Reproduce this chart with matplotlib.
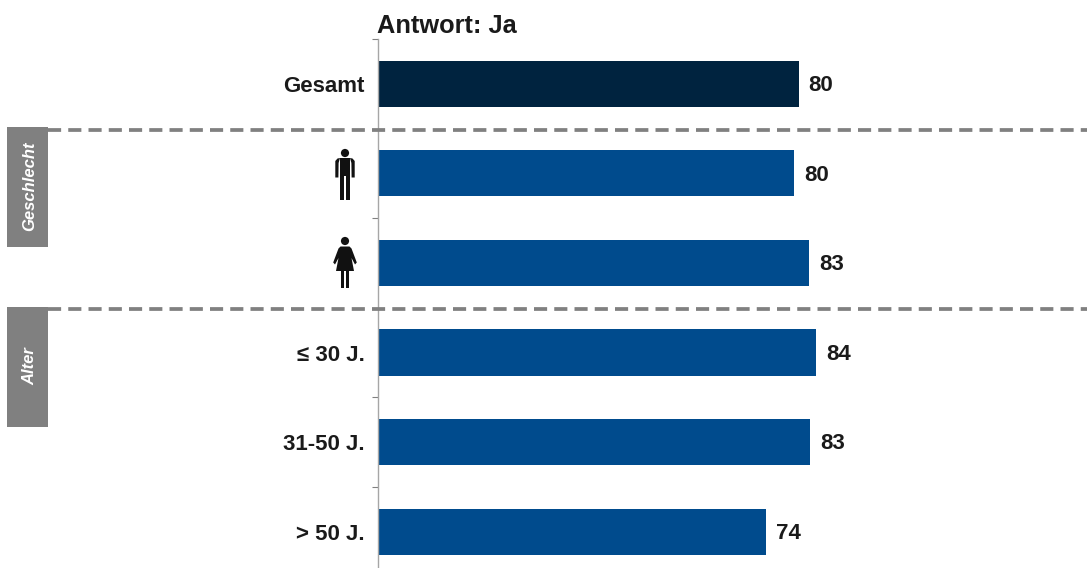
import numpy as np
import matplotlib
matplotlib.use("Agg")
import matplotlib.pyplot as plt
from matplotlib.patches import Circle, Polygon, Rectangle

plt.rcParams['font.family'] = ['Liberation Sans', 'DejaVu Sans']

# bar lengths as drawn, the printed labels are rounded differently in the source
categories = ["Gesamt", "", "", "≤ 30 J.", "31-50 J.", "> 50 J."]
values = [80.9, 80.0, 82.9, 84.2, 83.1, 74.6]
value_labels = ["80", "80", "83", "84", "83", "74"]
bar_colors = ["#00233f", "#004b8d", "#004b8d", "#004b8d", "#004b8d", "#004b8d"]
groups = ["Geschlecht", "Alter"]

GRAY = "#808080"
W, H = 1092, 568


def draw_man(ax, cx):
    ax.add_patch(Circle((cx, 153), 4.1, color="#111111", lw=0))
    torso = [(cx - 5.2, 158), (cx + 5.2, 158), (cx + 5.2, 199.5), (cx + 0.6, 199.5), (cx + 0.6, 176),
             (cx - 0.6, 176), (cx - 0.6, 199.5), (cx - 5.2, 199.5)]
    ax.add_patch(Polygon(torso, closed=True, color="#111111", lw=0))
    for side in (-1, 1):
        arm = [(cx + side * 5, 158), (cx + side * 7.5, 158.5), (cx + side * 9.7, 161),
               (cx + side * 9.7, 177.5), (cx + side * 6.6, 177.5), (cx + side * 6.4, 163)]
        ax.add_patch(Polygon(arm, closed=True, color="#111111", lw=0))


def draw_woman(ax, cx):
    ax.add_patch(Circle((cx, 241), 4.1, color="#111111", lw=0))
    dress = [(cx - 4.5, 246.5), (cx + 4.5, 246.5), (cx + 6.5, 248.5), (cx + 11.8, 262.5), (cx + 10, 264.5),
             (cx + 6.5, 258), (cx + 9, 271), (cx - 9, 271), (cx - 6.5, 258), (cx - 10, 264.5),
             (cx - 11.8, 262.5), (cx - 6.5, 248.5)]
    ax.add_patch(Polygon(dress, closed=True, color="#111111", lw=0))
    ax.add_patch(Rectangle((cx - 4.2, 271), 3.6, 16.5, color="#111111", lw=0))
    ax.add_patch(Rectangle((cx + 0.6, 271), 3.6, 16.5, color="#111111", lw=0))


def main():
    fig = plt.figure(figsize=(W / 100, H / 100), dpi=100, facecolor="white")

    # axes runs from the top of the value axis to the bottom edge of the image
    ax = fig.add_axes([378 / W, 0, (W - 378) / W, (H - 39) / H])
    y = np.arange(len(values))
    ax.barh(y, values, height=0.515, color=bar_colors)
    ax.set_xlim(0, (W - 378) / 5.2)
    ax.set_ylim(5.405, -0.5)

    for yi, v, lab in zip(y, values, value_labels):
        ax.annotate(lab, (v, yi), xytext=(7.2, -1.2), textcoords="offset points", va="center",
                    ha="left", fontsize=16, fontweight="bold", color="#1a1a1a")

    for s in ["top", "right", "bottom"]:
        ax.spines[s].set_visible(False)
    ax.spines["left"].set_color("#a6a6a6")
    ax.spines["left"].set_linewidth(1.0)
    ax.set_xticks([])
    ax.set_yticks(np.arange(len(values)) - 0.5)
    ax.set_yticklabels([])
    ax.tick_params(axis="y", which="major", length=4.5, width=0.8, color="#808080")
    ax.set_yticks(y, minor=True)
    ax.set_yticklabels(categories, minor=True, fontsize=16, fontweight="bold", color="#1a1a1a")
    ax.tick_params(axis="y", which="minor", length=0, pad=9.5)

    # overlay in image pixels for the group boxes, separators and pictograms
    over = fig.add_axes([0, 0, 1, 1], facecolor="none")
    over.set_xlim(0, W)
    over.set_ylim(H, 0)
    over.axis("off")

    for top, ly, name in zip([127, 307], [130, 309], groups):
        over.add_patch(Rectangle((7, top), 41, 120, color=GRAY, lw=0))
        over.text(29.5, top + 59.5, name, rotation=90, ha="center", va="center", color="white",
                  fontsize=12, fontweight="bold", fontstyle="italic")
        over.plot([48, 1087], [ly, ly], color=GRAY, lw=2.7, dashes=(3.5, 1.9),
                  dash_capstyle="butt")

    draw_man(over, 345)
    draw_woman(over, 345)

    over.text(377, 26, "Antwort: Ja", ha="left", va="center", fontsize=18.3,
              fontweight="bold", color="#1a1a1a")

    fig.savefig("out.png", dpi=100)
    plt.close(fig)


if __name__ == "__main__":
    main()
